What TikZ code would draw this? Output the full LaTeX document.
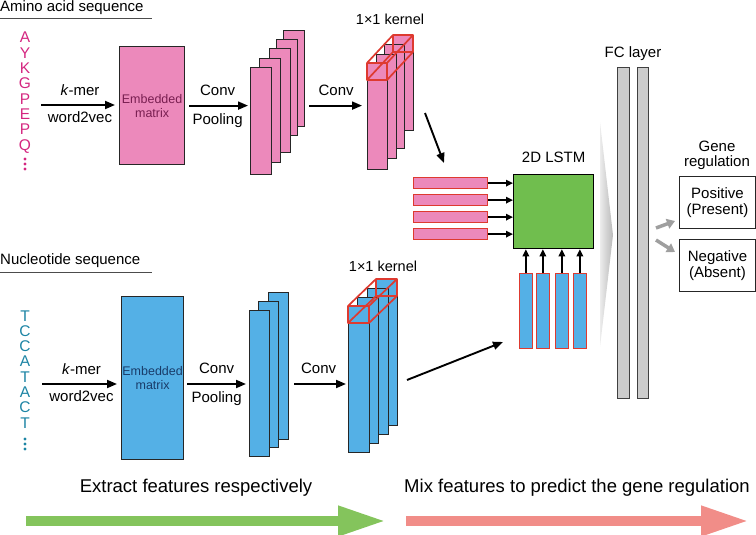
\documentclass[tikz,border=0pt]{standalone}
\usepackage{fontspec}
\setmainfont{Liberation Sans}
\usepackage{tikz}
\usetikzlibrary{arrows.meta, positioning, calc}
\definecolor{aapink}{RGB}{236, 137, 187}
\definecolor{aatext}{RGB}{212, 38, 128}
\definecolor{aadark}{RGB}{120, 30, 80}
\definecolor{ntblue}{RGB}{84, 176, 230}
\definecolor{nttext}{RGB}{28, 132, 164}
\definecolor{ntdark}{RGB}{25, 60, 105}
\definecolor{lstmgreen}{RGB}{112, 190, 78}
\definecolor{kred}{RGB}{222, 58, 48}
\definecolor{fcgray}{RGB}{204, 204, 204}
\definecolor{stepgreen}{RGB}{132, 196, 92}
\definecolor{stepred}{RGB}{241, 141, 136}

\begin{document}
\begin{tikzpicture}[x=1pt, y=-1pt,
    lbl/.style={font=\fontsize{15}{15}\selectfont, inner sep=0pt},
    seq/.style={font=\fontsize{15.5}{15.5}\selectfont, inner sep=0pt, text height=11pt, text depth=0pt},
    flow/.style={line width=1.9pt, -{Triangle[length=10pt, width=8pt]}},
    feed/.style={line width=1.5pt, -{Triangle[length=7pt, width=6.5pt]}},
    sheet/.style={draw=black!85, line width=1.2pt, anchor=north west, inner sep=0pt},
    embbox/.style={sheet, align=center, font=\fontsize{12.5}{14}\selectfont},
    redbar/.style={draw=kred, line width=1.3pt, anchor=north west, inner sep=0pt},
    kernel/.style={draw=kred, line width=1.7pt, line join=round},
    outbox/.style={draw=black!85, line width=1pt, anchor=north west, inner sep=0pt,
        align=center, minimum width=76pt, minimum height=52pt, font=\fontsize{15}{16}\selectfont},
    grayarrow/.style={draw=gray!75, line width=3.5pt, -{Triangle[length=8pt, width=10pt]}}
]
    \useasboundingbox (0,0) rectangle (756,535);

    % Amino acid branch
    \node[lbl, anchor=west] (aahead) at (0,8) {Amino acid sequence};
    \draw[black!70, line width=0.8pt] (0,18) -- (152,18);
    \foreach \c [count=\i from 0] in {A,Y,K,G,P,E,P,Q} {
        \node[seq, text=aatext] (aa\i) at (25, {37.5+15.3*\i}) {\c};
    }
    \foreach \d in {0,1,2} {
        \fill[aatext] (25, {159+5*\d}) circle (1.6);
    }

    \node[embbox, fill=aapink, text=aadark, minimum width=65pt, minimum height=118pt] (aaemb) at (119,46) {Embedded\\matrix};
    \coordinate (aastart) at (41,105);
    \draw[flow, shorten >=4pt] (aastart) -- (aastart -| aaemb.west)
        node[lbl, midway, above=8pt] {\textit{k}-mer}
        node[lbl, midway, below=6pt] {word2vec};

    \foreach \i/\x/\t/\b in {5/283/30/126, 4/276/39/135, 3/269/48/152, 2/259/58/162, 1/250/67/174} {
        \pgfmathsetmacro{\h}{\b-\t}
        \node[sheet, fill=aapink, minimum width=21pt, minimum height=\h pt] (upA\i) at (\x,\t) {};
    }
    \draw[flow, shorten <=4pt, shorten >=2pt] (aaemb.east) -- (aaemb.east -| upA1.west)
        node[lbl, midway, above=9pt] {Conv}
        node[lbl, midway, below=7pt] {Pooling};

    \foreach \i/\x/\t/\b in {4/393/35/130, 3/384/44/148, 2/376/54/158, 1/367/63/169} {
        \pgfmathsetmacro{\h}{\b-\t}
        \node[sheet, fill=aapink, minimum width=20pt, minimum height=\h pt] (upB\i) at (\x,\t) {};
    }
    \draw[kernel] (367,63) rectangle (387,80) (393,35) rectangle (413,52)
        (367,63) -- (393,35) (387,63) -- (413,35) (387,80) -- (413,52) (367,80) -- (393,52);
    \node[lbl, font=\fontsize{14.5}{14.5}\selectfont] (upkern) at (390,19) {1×1 kernel};
    \draw[flow, shorten <=4pt, shorten >=5pt] (aaemb.east -| upA5.east) -- (aaemb.east -| upB1.west)
        node[lbl, midway, above=9pt] {Conv};

    % Nucleotide branch
    \node[lbl, anchor=west] (nthead) at (0,261) {Nucleotide sequence};
    \draw[black!70, line width=0.8pt] (0,272) -- (152,272);
    \foreach \c [count=\i from 0] in {T,C,C,A,T,A,C,T} {
        \node[seq, text=nttext] (nt\i) at (25, {315.5+15.3*\i}) {\c};
    }
    \foreach \d in {0,1,2} {
        \fill[nttext] (25, {439+5*\d}) circle (1.6);
    }

    \node[embbox, fill=ntblue, text=ntdark, minimum width=62pt, minimum height=163pt] (ntemb) at (121,296) {Embedded\\matrix};
    \coordinate (ntstart) at (42,384);
    \draw[flow, shorten >=4pt] (ntstart) -- (ntstart -| ntemb.west)
        node[lbl, midway, above=8pt] {\textit{k}-mer}
        node[lbl, midway, below=6pt] {word2vec};

    \foreach \i/\x/\t/\b in {3/268/292/439, 2/258/301/447, 1/249/310/456} {
        \pgfmathsetmacro{\h}{\b-\t}
        \node[sheet, fill=ntblue, minimum width=20pt, minimum height=\h pt] (lowA\i) at (\x,\t) {};
    }
    \draw[flow, shorten <=3pt, shorten >=3pt] (ntstart -| ntemb.east) -- (ntstart -| lowA1.west)
        node[lbl, midway, above=9pt] {Conv}
        node[lbl, midway, below=7pt] {Pooling};

    \foreach \i/\x/\t/\b in {4/376/279/425, 3/367/288/434, 2/357/297/443, 1/348/306/452} {
        \pgfmathsetmacro{\h}{\b-\t}
        \node[sheet, fill=ntblue, minimum width=21pt, minimum height=\h pt] (lowB\i) at (\x,\t) {};
    }
    \draw[kernel] (348,306) rectangle (369,323) (376,279) rectangle (397,296)
        (348,306) -- (376,279) (369,306) -- (397,279) (369,323) -- (397,296) (348,323) -- (376,296);
    \node[lbl, font=\fontsize{14.5}{14.5}\selectfont] (lowkern) at (383,266) {1×1 kernel};
    \draw[flow, shorten <=5pt, shorten >=2pt] (ntstart -| lowA3.east) -- (ntstart -| lowB1.west)
        node[lbl, midway, above=9pt] {Conv};

    % 2D LSTM
    \node[draw=black, line width=1.3pt, fill=lstmgreen, anchor=north west, inner sep=0pt,
        minimum width=80pt, minimum height=74pt] (lstm) at (513,174) {};
    \node[lbl, above=11pt of lstm] (lstmlbl) {2D LSTM};
    \foreach \i/\t in {1/177, 2/194, 3/211, 4/228} {
        \node[redbar, fill=aapink, minimum width=74pt, minimum height=11pt] (hb\i) at (413,\t) {};
        \draw[feed] (hb\i.east) -- (hb\i.east -| lstm.west);
    }
    \foreach \i/\x in {1/519, 2/536, 3/555, 4/573} {
        \node[redbar, fill=ntblue, minimum width=12.5pt, minimum height=75pt] (vb\i) at (\x,273) {};
        \draw[feed] (vb\i.north) -- (vb\i.north |- lstm.south);
    }
    \coordinate (upcut) at (425,113);
    \coordinate (upin) at (444,163);
    \draw[flow] (upcut) -- (upin);
    \coordinate (lowcut) at (407,380);
    \coordinate (lowin) at (503,342);
    \draw[flow] (lowcut) -- (lowin);

    % FC layer and output
    \shade[left color=gray!15, right color=gray!55] (600,122) -- (613,235) -- (600,347) -- cycle;
    \node[sheet, draw=black!75, fill=fcgray, minimum width=12pt, minimum height=331pt] (fc1) at (617,67) {};
    \node[sheet, draw=black!75, fill=fcgray, minimum width=11pt, minimum height=331pt] (fc2) at (637,67) {};
    \node[lbl] (fclbl) at (633,54) {FC layer};

    \node[outbox] (pos) at (679,176) {Positive\\(Present)};
    \node[outbox] (neg) at (679,239) {Negative\\(Absent)};
    \node[lbl, align=center] (genelbl) at (717,155) {Gene\\regulation};
    \draw[grayarrow] ($(pos.south west)+(-23,-1)$) -- ($(pos.south west)+(-4,-8)$);
    \draw[grayarrow] ($(neg.north west)+(-23,1)$) -- ($(neg.north west)+(-4,13)$);

    % Bottom stages
    \node[font=\fontsize{18.5}{18.5}\selectfont, inner sep=0pt] (extract) at (196,488) {Extract features respectively};
    \node[font=\fontsize{18.5}{18.5}\selectfont, inner sep=0pt] (mix) at (577,488) {Mix features to predict the gene regulation};
    \coordinate (gs) at (26,521);
    \coordinate (ge) at (386,521);
    \draw[stepgreen, line width=10pt, -{Triangle[length=48pt, width=28pt]}] (gs) -- (ge);
    \coordinate (rs) at (406,521);
    \coordinate (re) at (749,521);
    \draw[stepred, line width=10pt, -{Triangle[length=48pt, width=28pt]}] (rs) -- (re);
\end{tikzpicture}
\end{document}
